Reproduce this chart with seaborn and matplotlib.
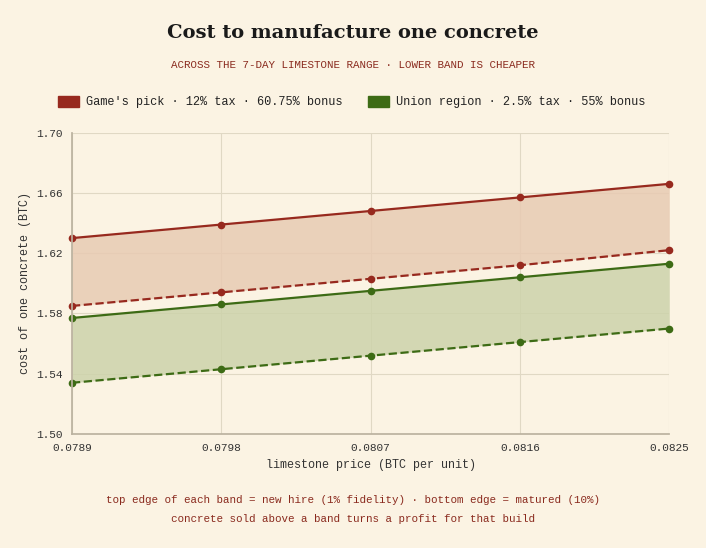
import matplotlib
matplotlib.use("Agg")
import matplotlib.pyplot as plt
import seaborn as sns
import pandas as pd

price = [0.0789, 0.0798, 0.0807, 0.0816, 0.0825]
game_new = [1.630, 1.639, 1.648, 1.657, 1.666]
game_mat = [1.585, 1.594, 1.603, 1.612, 1.622]
union_new = [1.577, 1.586, 1.595, 1.604, 1.613]
union_mat = [1.534, 1.543, 1.552, 1.561, 1.570]

RED = "#97291e"
GREEN = "#3d6b15"
BG = "#fbf3e3"

sns.set_theme(style="whitegrid")
plt.rcParams['font.family'] = ['Liberation Mono', 'DejaVu Sans Mono']

fig = plt.figure(figsize=(7.06, 5.48), dpi=100, facecolor=BG)
ax = fig.add_axes([0.102, 0.208, 0.846, 0.55], facecolor=BG)

df = pd.DataFrame({"price": price, "gn": game_new, "gm": game_mat,
                   "un": union_new, "um": union_mat})

ax.fill_between(df.price, df.gm, df.gn, color="#e8cbb3", alpha=0.85, lw=0)
ax.fill_between(df.price, df.um, df.un, color="#cdd3ab", alpha=0.85, lw=0)
for col, c, ls in [("gn", RED, "-"), ("gm", RED, "--"), ("un", GREEN, "-"), ("um", GREEN, "--")]:
    sns.lineplot(data=df, x="price", y=col, ax=ax, color=c, linestyle=ls, lw=1.6,
                 marker="o", markersize=5.5, markeredgewidth=0, clip_on=False)

ax.set_xlim(price[0], price[-1])
ax.set_ylim(1.50, 1.70)
ax.set_xticks(price)
ax.set_xticklabels([f"{p:.4f}" for p in price])
ax.set_yticks([1.50, 1.54, 1.58, 1.62, 1.66, 1.70])
ax.set_yticklabels([f"{v:.2f}" for v in [1.50, 1.54, 1.58, 1.62, 1.66, 1.70]])
ax.tick_params(labelsize=8, colors="#333333", length=3)
ax.grid(color="#e0d8c4", lw=0.8)
for s in ["top", "right"]:
    ax.spines[s].set_visible(False)
for s in ["left", "bottom"]:
    ax.spines[s].set_color("#bbb2a0")
ax.set_xlabel("limestone price (BTC per unit)", fontsize=8.5, color="#333333")
ax.set_ylabel("cost of one concrete (BTC)", fontsize=8.5, color="#333333")

fig.text(0.5, 0.93, "Cost to manufacture one concrete", ha="center", fontsize=14,
         fontweight="bold", family="DejaVu Serif", color="#1a1a1a")
fig.text(0.5, 0.875, "ACROSS THE 7-DAY LIMESTONE RANGE · LOWER BAND IS CHEAPER",
         ha="center", fontsize=7.8, color="#8a2a1e")

fig.patches.append(plt.Rectangle((0.082, 0.805), 0.03, 0.02, color=RED, transform=fig.transFigure))
fig.text(0.122, 0.814, "Game's pick · 12% tax · 60.75% bonus", va="center", fontsize=8.6, color="#222222")
fig.patches.append(plt.Rectangle((0.521, 0.805), 0.03, 0.02, color=GREEN, transform=fig.transFigure))
fig.text(0.561, 0.814, "Union region · 2.5% tax · 55% bonus", va="center", fontsize=8.6, color="#222222")

fig.text(0.5, 0.083, "top edge of each band = new hire (1% fidelity) · bottom edge = matured (10%)",
         ha="center", fontsize=7.8, color="#8a2a1e")
fig.text(0.5, 0.048, "concrete sold above a band turns a profit for that build",
         ha="center", fontsize=7.8, color="#8a2a1e")

fig.savefig("out.png", dpi=100, facecolor=BG)
